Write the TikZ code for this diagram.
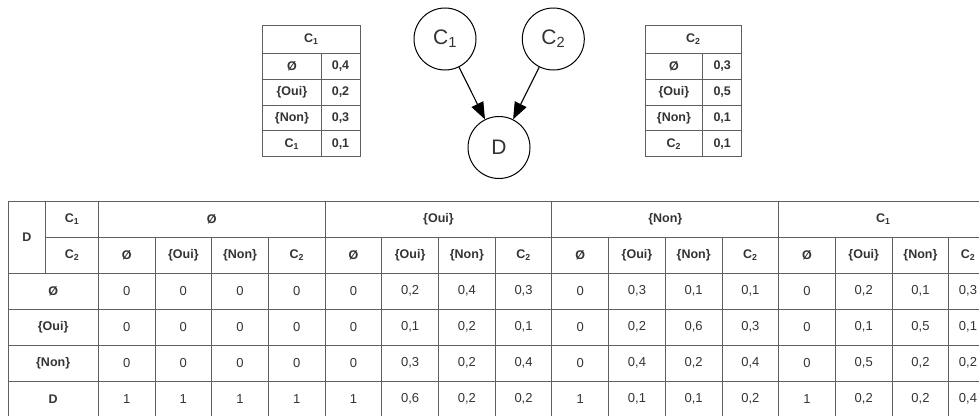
\documentclass[tikz,border=0pt]{standalone}
\usepackage{fontspec}
\setmainfont{Liberation Sans}
\usepackage{xcolor}
\usetikzlibrary{arrows.meta}
\definecolor{ink}{HTML}{333333}
\definecolor{rulegray}{HTML}{5F5F5F}

\begin{document}
\begin{tikzpicture}[x=1pt, y=-1pt,
    var/.style={draw, circle, line width=1pt, minimum size=62pt, inner sep=0pt, text=ink, font=\fontsize{21}{21}\selectfont},
    cell/.style={text=ink, inner sep=1pt, font=\fontsize{13}{15}\selectfont},
    hcell/.style={cell, font=\fontsize{12.5}{15}\selectfont\bfseries},
    scell/.style={text=ink, inner sep=1pt, font=\fontsize{12.5}{15}\selectfont\bfseries},
    grid/.style={draw=rulegray, line width=0.9pt}]
      \useasboundingbox (0,0) rectangle (979,415);
      \clip (0,0) rectangle (979,415);

      % network
      \node[var] (c1) at (445,39) {C\textsubscript{1}};
      \node[var] (c2) at (553.3,39) {C\textsubscript{2}};
      \node[var] (d) at (499,147.5) {D};

      \draw[-{Triangle[length=17pt,width=13pt]}, line width=1.1pt] (c1) to (d);
      \draw[-{Triangle[length=17pt,width=13pt]}, line width=1.1pt] (c2) to (d);

      % table of C1
      \draw[grid] (262.7,25) rectangle (360,156.7);
      \foreach \y in {53.3,79,105,130.7} \draw[grid] (262.7,\y) -- (360,\y);
      \draw[grid] (321,53.3) -- (321,156.7);
      \node[scell] (t1h) at (311.3,39) {C\textsubscript{1}};
      \foreach \lab/\val [count=\r] in {Ø/{0,4}, \{Oui\}/{0,2}, \{Non\}/{0,3}, C\textsubscript{1}/{0,1}} {
        \node[scell] (t1l\r) at (291.9,{40.4+25.85*\r}) {\lab};
        \node[scell] (t1v\r) at (340.5,{40.4+25.85*\r}) {\val};
      }

      % table of C2
      \draw[grid] (645,25) rectangle (741.7,156.7);
      \foreach \y in {53.3,79,105,130.7} \draw[grid] (645,\y) -- (741.7,\y);
      \draw[grid] (702.7,53.3) -- (702.7,156.7);
      \node[scell] (t2h) at (693.3,39) {C\textsubscript{2}};
      \foreach \lab/\val [count=\r] in {Ø/{0,3}, \{Oui\}/{0,5}, \{Non\}/{0,1}, C\textsubscript{2}/{0,1}} {
        \node[scell] (t2l\r) at (673.9,{40.4+25.85*\r}) {\lab};
        \node[scell] (t2v\r) at (722.2,{40.4+25.85*\r}) {\val};
      }

      % table of D
      \draw[grid] (8,201) -- (988,201);
      \draw[grid] (45.7,237) -- (988,237);
      \foreach \y in {273,309,345,381} \draw[grid] (8,\y) -- (988,\y);
      \draw[grid] (8,201) -- (8,417);
      \draw[grid] (45.7,201) -- (45.7,273);
      \draw[grid] (98.3,201) -- (98.3,417);
      \foreach \k in {4,8,12} \draw[grid] ({98.3+56.7*\k},201) -- ({98.3+56.7*\k},417);
      \foreach \k in {1,2,3,5,6,7,9,10,11,13,14,15} \draw[grid] ({98.3+56.7*\k},237) -- ({98.3+56.7*\k},417);

      \node[hcell] (dh) at (27,237) {D};
      \node[hcell] (dc1) at (72,219) {C\textsubscript{1}};
      \node[hcell] (dc2) at (72,255) {C\textsubscript{2}};

      \foreach \g/\x [count=\i] in {Ø/211.7, \{Oui\}/438.5, \{Non\}/665.3, C\textsubscript{1}/883.2}
        \node[hcell] (g\i) at (\x,219) {\g};
      \foreach \g in {0,...,3}
        \foreach \h [count=\j from 0] in {Ø,\{Oui\},\{Non\},C\textsubscript{2}}
          \node[hcell] (s\g-\j) at ({min(126.65+56.7*(4*\g+\j),968)},255) {\h};

      \foreach \lab [count=\r] in {Ø,\{Oui\},\{Non\},D}
        \node[hcell] (rl\r) at (53.15,{255+36*\r}) {\lab};

      \foreach \vals [count=\r] in {
          {0,0,0,0,0,{0,2},{0,4},{0,3},0,{0,3},{0,1},{0,1},0,{0,2},{0,1},{0,3}},
          {0,0,0,0,0,{0,1},{0,2},{0,1},0,{0,2},{0,6},{0,3},0,{0,1},{0,5},{0,1}},
          {0,0,0,0,0,{0,3},{0,2},{0,4},0,{0,4},{0,2},{0,4},0,{0,5},{0,2},{0,2}},
          {1,1,1,1,1,{0,6},{0,2},{0,2},1,{0,1},{0,1},{0,2},1,{0,2},{0,2},{0,4}}}
        \foreach \v [count=\k from 0] in \vals
          \node[cell] (v\r-\k) at ({min(126.65+56.7*\k,968)},{255+36*\r}) {\v};
\end{tikzpicture}
\end{document}
